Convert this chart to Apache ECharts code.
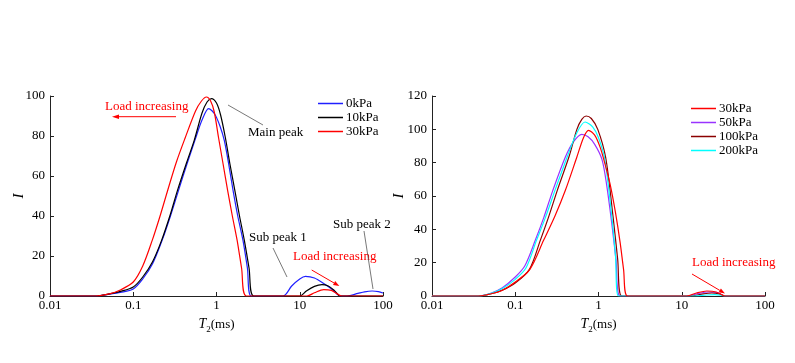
<!DOCTYPE html>
<html>
<head>
<meta charset="utf-8">
<script src="https://cdn.jsdelivr.net/npm/echarts@6/dist/echarts.min.js"></script>
<style>
html,body{margin:0;padding:0;background:#fff;}
#chart{width:795px;height:363px;}
</style>
</head>
<body>
<div id="chart"></div>
<script>
// ---- Data (T2 in ms, I amplitude) ----
// Left panel
const T_0kPa  = [0.01, 0.037, 0.05, 0.07, 0.1, 0.13, 0.17, 0.222, 0.28, 0.35, 0.45, 0.55, 0.67, 0.805, 0.95, 1.1, 1.24, 1.4, 1.58, 1.8, 2.08, 2.35, 2.62, 6.3, 8, 10, 11.7, 15, 19.4, 25, 30.7, 37, 50, 60, 74, 88, 100];
const I_0kPa  = [0, 0, 0.8, 1.8, 3.5, 8.5, 16, 27.8, 40, 52.8, 67, 77.8, 88, 93.7, 91, 85, 77.8, 66, 52.8, 40, 27.8, 14, 0, 0, 5, 8.5, 9.8, 9, 6.2, 3, 0, 0, 1.3, 2.1, 2.5, 2.2, 1.5];
const T_10kPa = [0.01, 0.037, 0.05, 0.07, 0.1, 0.13, 0.17, 0.219, 0.28, 0.34, 0.44, 0.54, 0.67, 0.77, 0.87, 1.0, 1.12, 1.28, 1.45, 1.66, 1.89, 2.16, 2.46, 2.8, 10, 12, 15, 18.5, 22, 26, 30.7, 100];
const I_10kPa = [0, 0, 0.9, 2.3, 4.5, 9.5, 17, 27.8, 41, 52.8, 67, 77.8, 91.5, 97, 98.7, 96.5, 90.5, 79, 66, 52.8, 40, 27.8, 14, 0, 0, 2.5, 4.8, 5.7, 5, 2.8, 0, 0];
const T_30kPa_L = [0.01, 0.035, 0.053, 0.07, 0.1, 0.13, 0.169, 0.21, 0.26, 0.33, 0.42, 0.56, 0.66, 0.757, 0.85, 0.94, 1.06, 1.2, 1.36, 1.55, 1.77, 2.0, 2.29, 12.2, 15, 19.4, 24, 28, 32, 100];
const I_30kPa_L = [0, 0, 1.2, 3, 7, 15, 27.8, 40, 53, 67, 79, 92.5, 97.5, 99.5, 97.5, 92, 79, 66, 52.8, 40, 27.8, 14, 0, 0, 1.6, 3.2, 2.8, 1.2, 0, 0];
// Right panel
const T_30kPa_R = [0.01, 0.036, 0.05, 0.07, 0.1, 0.15, 0.219, 0.3, 0.4, 0.55, 0.66, 0.758, 0.9, 1.05, 1.2, 1.38, 1.6, 1.82, 2.0, 2.23, 11.5, 15, 20, 26, 33, 100];
const I_30kPa_R = [0, 0, 1.2, 3.5, 8.4, 16, 33.4, 48, 63.4, 83.4, 95, 99.4, 96.5, 89, 79, 67, 50, 32, 16, 0, 0, 1.8, 3, 2.4, 0, 0];
const T_50kPa  = [0.01, 0.036, 0.05, 0.07, 0.1, 0.13, 0.174, 0.22, 0.283, 0.4, 0.5, 0.63, 0.75, 0.9, 1.1, 1.25, 1.44, 1.62, 1.82, 12, 15, 21, 27, 33, 100];
const I_50kPa  = [0, 0, 1.5, 5, 11.4, 18, 33.4, 47, 63.4, 83.4, 92.5, 97, 95.5, 91, 82, 67, 44, 22, 0, 0, 1.2, 2.4, 2, 0, 0];
const T_100kPa = [0.01, 0.036, 0.05, 0.07, 0.1, 0.148, 0.2, 0.25, 0.32, 0.445, 0.55, 0.63, 0.71, 0.82, 0.98, 1.22, 1.5, 1.7, 1.9, 13, 17, 23, 28, 33, 100];
const I_100kPa = [0, 0, 1.2, 3.5, 7.8, 16, 33.4, 47, 63.4, 84, 100, 106, 108, 106.5, 100, 83, 47, 22, 0, 0, 1, 1.8, 1.3, 0, 0];
const T_200kPa = [0.01, 0.036, 0.05, 0.07, 0.1, 0.135, 0.18, 0.23, 0.3, 0.425, 0.55, 0.69, 0.85, 1.0, 1.19, 1.45, 1.6, 1.74, 14, 20, 25, 30, 33, 100];
const I_200kPa = [0, 0, 1.4, 4.5, 10, 17, 33.4, 47, 63.4, 84, 98, 104.4, 101.5, 95, 82, 47, 24, 0, 0, 0.6, 0.8, 0.4, 0, 0];

const xTicks = [0.01, 0.1, 1, 10, 100];
const leftLegend = ['0kPa', '10kPa', '30kPa'];
const rightLegend = ['30kPa', '50kPa', '100kPa', '200kPa'];

const FONT = "'Liberation Serif','Times New Roman',serif";
const pairs = (t, v) => t.map((x, i) => [x, v[i]]);

function xAxisCfg(gi) {
  return {
    type: 'log', logBase: 10, min: xTicks[0], max: xTicks[xTicks.length - 1], gridIndex: gi,
    name: '{i|T}{s|2}{n|(ms)}', nameLocation: 'middle', nameGap: 21, nameMoveOverlap: false,
    nameTextStyle: { rich: {
      i: { fontFamily: FONT, fontStyle: 'italic', fontSize: 14, color: '#000', verticalAlign: 'bottom' },
      s: { fontFamily: FONT, fontSize: 9, color: '#000', verticalAlign: 'bottom', padding: [0, 0, -3, 0] },
      n: { fontFamily: FONT, fontSize: 13, color: '#000', verticalAlign: 'bottom' } } },
    axisLine: { show: true, onZero: false, lineStyle: { color: '#222', width: 1 } },
    axisTick: { show: true, inside: true, length: 4, lineStyle: { color: '#222' } },
    minorTick: { show: false },
    splitLine: { show: false },
    axisLabel: { fontFamily: FONT, fontSize: 13, color: '#000', margin: 3,
      formatter: v => String(v) }
  };
}
function yAxisCfg(gi, max, gap) {
  return {
    type: 'value', min: 0, max: max, interval: 20, gridIndex: gi,
    name: 'I', nameLocation: 'middle', nameGap: gap, nameRotate: 90, nameMoveOverlap: false,
    nameTextStyle: { fontFamily: FONT, fontStyle: 'italic', fontSize: 15, color: '#000' },
    axisLine: { show: true, lineStyle: { color: '#222', width: 1 } },
    axisTick: { show: true, inside: true, length: 4, lineStyle: { color: '#222' } },
    splitLine: { show: false },
    axisLabel: { fontFamily: FONT, fontSize: 13, color: '#000', margin: 5 }
  };
}
function line(name, data, color, gi, z) {
  return { name, type: 'line', xAxisIndex: gi, yAxisIndex: gi, data, color,
    showSymbol: false, symbol: 'none', smooth: 0.3, z: z || 2,
    lineStyle: { color, width: 1.2 }, itemStyle: { color } };
}
function legendCfg(data, left, top) {
  return { data, orient: 'vertical', left, top, padding: 0, icon: 'rect',
    itemWidth: 25, itemHeight: 1.5, itemGap: 1, selectedMode: false,
    textStyle: { fontFamily: FONT, fontSize: 13, color: '#000', lineHeight: 13, padding: [0, 0, 0, -2] } };
}
function txt(text, x, y, color) {
  return { type: 'text', x, y, style: { text, fill: color, font: "13px 'Liberation Serif','Times New Roman',serif", align: 'left', verticalAlign: 'middle' } };
}
function seg(x1, y1, x2, y2, color, w) {
  return { type: 'line', shape: { x1, y1, x2, y2 }, style: { stroke: color, lineWidth: w || 0.8 } };
}
function head(points, color) {
  return { type: 'polygon', shape: { points }, style: { fill: color } };
}

const chart = echarts.init(document.getElementById('chart'), null, { renderer: 'canvas' });
chart.setOption({
  animation: false,
  backgroundColor: '#fff',
  grid: [
    { left: 50, top: 96, width: 333, height: 200 },
    { left: 432, top: 96, width: 333, height: 200 }
  ],
  xAxis: [xAxisCfg(0), xAxisCfg(1)],
  yAxis: [yAxisCfg(0, 100, 23), yAxisCfg(1, 120, 25)],
  legend: [legendCfg(leftLegend, 318, 97), legendCfg(rightLegend, 691, 102)],
  series: [
    line('0kPa', pairs(T_0kPa, I_0kPa), '#1f1fff', 0),
    line('10kPa', pairs(T_10kPa, I_10kPa), '#000000', 0),
    line('30kPa', pairs(T_30kPa_L, I_30kPa_L), '#ff0000', 0, 3),
    line('50kPa', pairs(T_50kPa, I_50kPa), '#9933ff', 1),
    line('100kPa', pairs(T_100kPa, I_100kPa), '#8b0000', 1),
    line('200kPa', pairs(T_200kPa, I_200kPa), '#00ffff', 1),
    line('30kPa', pairs(T_30kPa_R, I_30kPa_R), '#ff0000', 1, 3)
  ],
  graphic: [
    txt('Load increasing', 105, 107, '#ff0000'),
    seg(176, 116.7, 118, 116.7, '#ff0000', 1),
    head([[112, 116.7], [119, 114.5], [119, 118.9]], '#ff0000'),
    txt('Main peak', 248, 133, '#000'),
    seg(228, 105, 263, 125, '#555'),
    txt('Sub peak 1', 249, 238, '#000'),
    seg(273, 248, 287, 277, '#555'),
    txt('Load increasing', 293, 257, '#ff0000'),
    seg(311.7, 270, 334.1, 283, '#ff0000', 1),
    head([[339.3, 286], [333.0, 284.9], [335.2, 281.1]], '#ff0000'),
    txt('Sub peak 2', 333, 225, '#000'),
    seg(364, 231, 373, 289, '#555'),
    txt('Load increasing', 692, 263, '#ff0000'),
    seg(692, 274, 719.8, 290.4, '#ff0000', 1),
    head([[725, 293.5], [718.7, 292.3], [720.9, 288.5]], '#ff0000')
  ]
});
</script>
</body>
</html>
